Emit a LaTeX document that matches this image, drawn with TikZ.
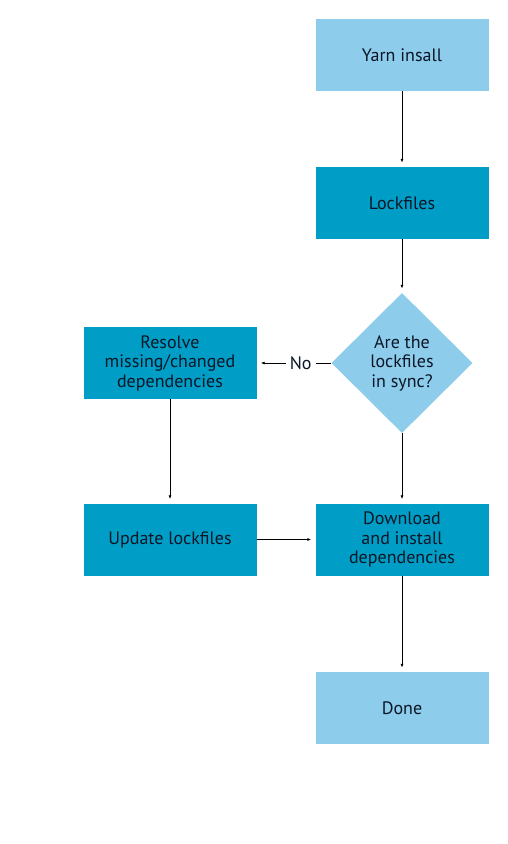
\documentclass[tikz,border=0pt]{standalone}
\usepackage{xcolor}
\usepackage{fontspec}
\setmainfont{PT Sans}
\usetikzlibrary{shapes.geometric,arrows.meta}

\definecolor{lightbox}{HTML}{8DCCEB}
\definecolor{darkbox}{HTML}{009EC6}
\definecolor{boxtext}{HTML}{0B1626}

\begin{document}
\begin{tikzpicture}[x=1pt,y=-1pt,
	every node/.style={font=\fontsize{18}{19.5}\selectfont, text=boxtext, align=center},
	stepbox/.style={rectangle, minimum width=173pt, minimum height=72pt, inner sep=0pt},
	lightstep/.style={stepbox, fill=lightbox},
	darkstep/.style={stepbox, fill=darkbox},
	question/.style={diamond, fill=lightbox, minimum width=141pt, minimum height=140pt, inner sep=0pt},
	flow/.style={-{Latex[length=4pt,width=3pt]}, line width=0.8pt, shorten >=4pt}]
	\useasboundingbox (0,0) rectangle (507,844);
	\node[lightstep] (yarn) at (402,55) {Yarn insall};
	\node[darkstep] (lock) at (402,203) {Lockfiles};
	\node[question] (sync) at (402,363) {Are the\\lockfiles\\in sync?};
	\node[darkstep] (resolve) at (170,363) {Resolve\\missing/changed\\dependencies};
	\node[darkstep] (update) at (170,539.5) {Update lockfiles};
	\node[darkstep] (install) at (402,539.5) {Download\\and install\\dependencies};
	\node[lightstep] (done) at (402,708) {Done};
	\draw[flow] (yarn) -- (lock);
	\draw[flow] (lock) -- (sync);
	\draw[flow] (sync.west) -- node[pos=0.41, fill=white, inner sep=4pt] (no) {No} (resolve.east);
	\draw[flow] (resolve) -- (update);
	\draw[flow] (sync) -- (install);
	\draw[flow] (update) -- (install);
	\draw[flow] (install) -- (done);
\end{tikzpicture}
\end{document}
